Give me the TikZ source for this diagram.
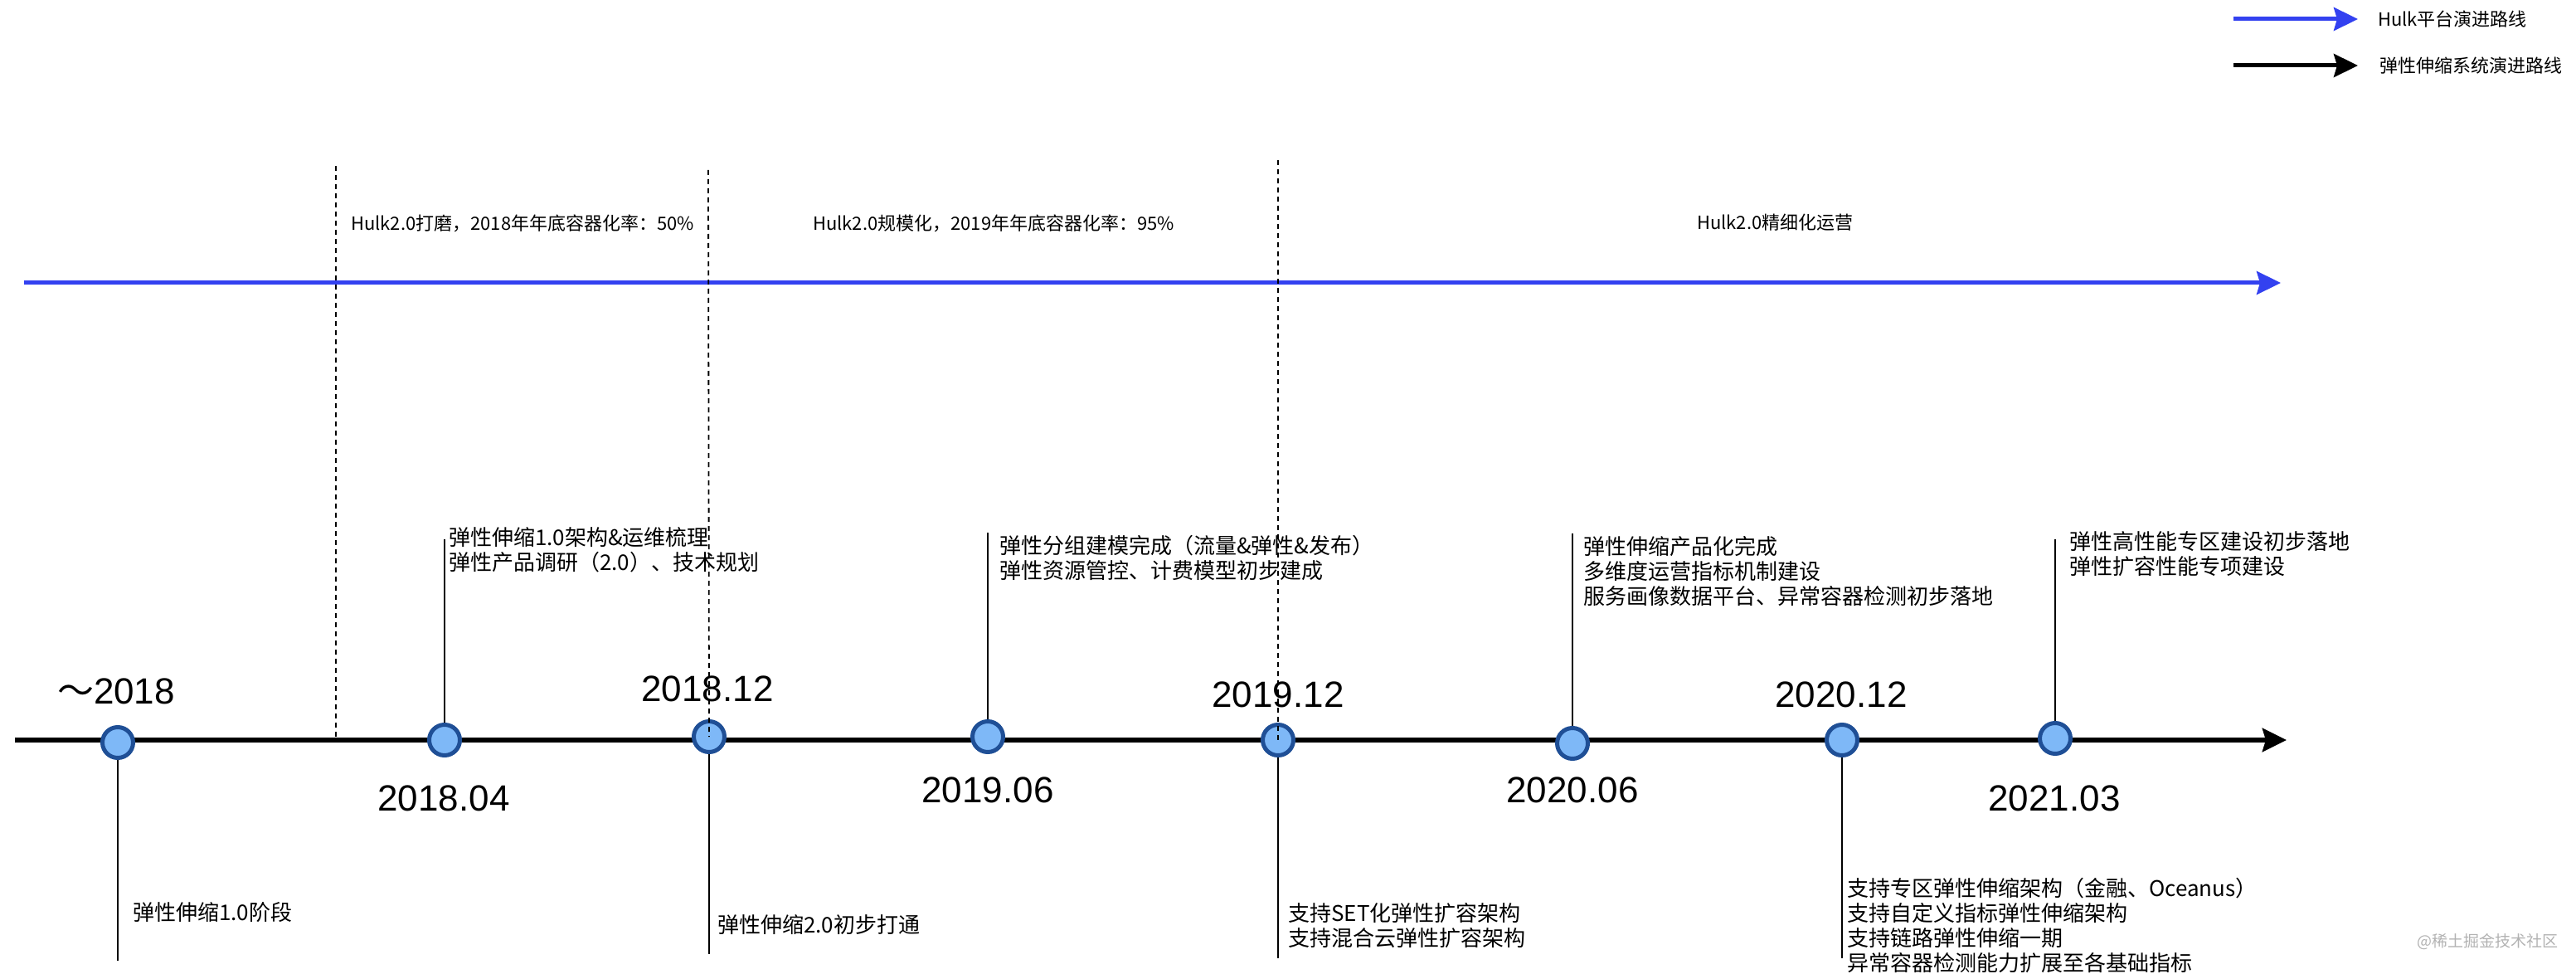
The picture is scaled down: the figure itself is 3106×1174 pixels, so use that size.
\documentclass[tikz,border=0pt]{standalone}
\usepackage{fontspec}
\setmainfont{Liberation Sans}
\newfontfamily\cjk{Noto Sans CJK SC}
\usetikzlibrary{arrows.meta}
\definecolor{hulkblue}{RGB}{51,65,240}
\definecolor{pointfill}{RGB}{126,184,247}
\definecolor{pointdraw}{RGB}{31,79,150}

\begin{document}
\begin{tikzpicture}
  [x=1pt, y=-1pt,
  point/.style={circle, draw=pointdraw, fill=pointfill, line width=5pt, minimum size=37pt, inner sep=0pt},
  date/.style={font=\fontsize{44}{48}\selectfont, inner sep=0pt},
  desc/.style={font=\cjk\fontsize{26}{30}\selectfont, align=left, inner sep=0pt},
  phase/.style={font=\cjk\fontsize{22}{26}\selectfont, anchor=west, inner sep=0pt},
  stem/.style={draw, line width=2pt},
  divider/.style={draw, line width=1.8pt, dash pattern=on 6pt off 5pt},
  hulkline/.style={draw=hulkblue, line width=5pt, -{Stealth[length=29pt, width=28pt, inset=4pt]}},
  mainline/.style={draw=black, line width=6pt, -{Stealth[length=29pt, width=28pt, inset=4pt]}}]
  \useasboundingbox (0,0) rectangle (3106,1174);
  % legend
  \coordinate (lgblue) at (2693,23);
  \coordinate (lgblack) at (2693,79);
  \node [phase] (lgtext1) at (2867,23) {Hulk平台演进路线};
  \node [phase] (lgtext2) at (2869,79) {弹性伸缩系统演进路线};
  \path [hulkline, shorten >=24pt] (lgblue) -- (lgtext1.west);
  \path [mainline, line width=5pt, shorten >=26pt] (lgblack) -- (lgtext2.west);
  % phases
  \node [phase] (phase1) at (423,269) {Hulk2.0打磨，2018年年底容器化率：50\%};
  \node [phase] (phase2) at (980,269) {Hulk2.0规模化，2019年年底容器化率：95\%};
  \node [phase] (phase3) at (2046,268) {Hulk2.0精细化运营};
  \coordinate (hulkstart) at (29,341);
  \coordinate (hulkend) at (2750,341);
  \path [hulkline] (hulkstart) -- (hulkend);
  % timeline
  \coordinate (linestart) at (18,892);
  \coordinate (lineend) at (2757,892);
  \path [mainline] (linestart) -- (lineend);
  \node [point] (n2018) at (142,895) {};
  \node [point] (n1804) at (536,892) {};
  \node [point] (n1812) at (855,888) {};
  \node [point] (n1906) at (1191,888) {};
  \node [point] (n1912) at (1541,892) {};
  \node [point] (n2006) at (1896,896) {};
  \node [point] (n2012) at (2221,892) {};
  \node [point] (n2103) at (2478,890) {};
  % dates
  \node [date] (y2018) at (140,833) {{\cjk ～}2018};
  \node [date] (y1804) at (535,962) {2018.04};
  \node [date] (y1812) at (853,830) {2018.12};
  \node [date] (y1906) at (1191,952) {2019.06};
  \node [date] (y1912) at (1541,837) {2019.12};
  \node [date] (y2006) at (1896,952) {2020.06};
  \node [date] (y2012) at (2220,837) {2020.12};
  \node [date] (y2103) at (2477,962) {2021.03};
  % texts above
  \node [desc, anchor=north west] (d1804) at (541,635) {弹性伸缩1.0架构\&运维梳理\\弹性产品调研（2.0）、技术规划};
  \node [desc, anchor=north west] (d1906) at (1205,645) {弹性分组建模完成（流量\&弹性\&发布）\\弹性资源管控、计费模型初步建成};
  \node [desc, anchor=north west] (d2006) at (1909,646) {弹性伸缩产品化完成\\多维度运营指标机制建设\\服务画像数据平台、异常容器检测初步落地};
  \node [desc, anchor=north west] (d2103) at (2495,640) {弹性高性能专区建设初步落地\\弹性扩容性能专项建设};
  % texts below
  \node [desc, anchor=west] (d2018) at (160,1100) {弹性伸缩1.0阶段};
  \node [desc, anchor=west] (d1812) at (865,1115) {弹性伸缩2.0初步打通};
  \node [desc, anchor=north west] (d1912) at (1553,1088) {支持SET化弹性扩容架构\\支持混合云弹性扩容架构};
  \node [desc, anchor=north west] (d2012) at (2227,1058) {支持专区弹性伸缩架构（金融、Oceanus）\\支持自定义指标弹性伸缩架构\\支持链路弹性伸缩一期\\异常容器检测能力扩展至各基础指标};
  \node [font=\cjk\fontsize{19}{22}\selectfont, text=black!30, anchor=west, inner sep=0pt] (mark) at (2914,1135) {@稀土掘金技术社区};
  % stems
  \coordinate (t1804) at (536,650);
  \coordinate (t1906) at (1191,642);
  \coordinate (t2006) at (1896,643);
  \coordinate (t2103) at (2478,650);
  \coordinate (b2018) at (142,1158);
  \coordinate (b1812) at (855,1150);
  \coordinate (b1912) at (1541,1155);
  \coordinate (b2012) at (2221,1155);
  \path [stem] (n1804) -- (t1804);
  \path [stem] (n1906) -- (t1906);
  \path [stem] (n2006) -- (t2006);
  \path [stem] (n2103) -- (t2103);
  \path [stem] (n2018) -- (b2018);
  \path [stem] (n1812) -- (b1812);
  \path [stem] (n1912) -- (b1912);
  \path [stem] (n2012) -- (b2012);
  % phase borders
  \coordinate (cut1) at (405,200);
  \coordinate (cut2) at (854,205);
  \coordinate (cut3) at (1541,193);
  \path [divider] (cut1) -- (cut1 |- linestart);
  \path [divider] (cut2) -- (n1812.center);
  \path [divider] (cut3) -- (n1912.center);
\end{tikzpicture}
\end{document}
